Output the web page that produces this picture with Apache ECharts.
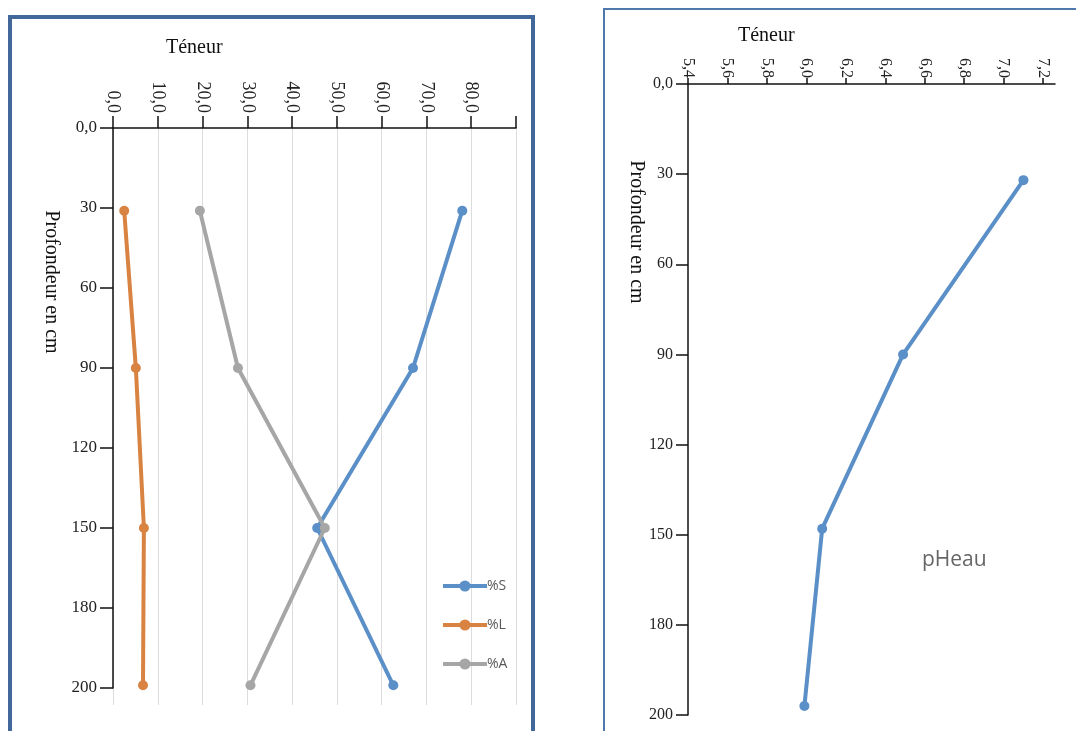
<!DOCTYPE html>
<html>
<head>
<meta charset="utf-8">
<script src="https://cdn.jsdelivr.net/npm/echarts@6/dist/echarts.min.js"></script>
<style>html,body{margin:0;padding:0;background:#fff}#c{width:1076px;height:731px}</style>
</head>
<body>
<div id="c"></div>
<script>
// ---- Data ----
const depthLabels = ['0,0','30','60','90','120','150','180','200'];
const granuloDepth = [31, 90, 150, 209];
const sable  = [78.0, 67.0, 45.6, 62.6];   // %S
const limon  = [2.5, 5.1, 6.9, 6.7];       // %L
const argile = [19.4, 27.9, 47.3, 30.7];   // %A
const phDepth = [32, 90, 148, 207];
const pHeau = [7.10, 6.49, 6.08, 5.99];
const seriesNames = ['%S', '%L', '%A'];

const serif = 'Liberation Serif';
const colS = '#5b8fc7', colL = '#d98342', colA = '#a6a6a6';

const depthFmt = v => depthLabels[Math.round(v / 30)] ?? '';
const commaFmt = v => (Math.abs(v - 90) < 1e-6 ? '' : v.toFixed(1).replace('.', ','));

const chart = echarts.init(document.getElementById('c'));
const pts = (xs, ys) => xs.map((x, i) => [x, ys[i]]);

chart.setOption({
  backgroundColor: '#ffffff',
  animation: false,
  grid: [
    { left: 113, top: 128, width: 403, height: 560 },
    { left: 113, top: 128, width: 403, height: 577 },
    { left: 688, top: 84, width: 367, height: 631 }
  ],
  xAxis: [
    { gridIndex: 0, type: 'value', position: 'top', min: 0, max: 90, interval: 10,
      axisLine: { show: true, lineStyle: { color: '#111', width: 1.5 } },
      axisTick: { show: true, inside: false, length: 12, lineStyle: { color: '#111', width: 1.5 } },
      axisLabel: { rotate: -90, margin: 15, formatter: commaFmt, fontFamily: serif, fontSize: 18, color: '#222' },
      splitLine: { show: false } },
    { gridIndex: 1, type: 'value', min: 0, max: 90, interval: 10,
      axisLine: { show: false }, axisTick: { show: false }, axisLabel: { show: false },
      splitLine: { show: true, lineStyle: { color: '#dcdcdc', width: 1 } } },
    { gridIndex: 2, type: 'value', position: 'top', min: 5.4, max: 7.26, interval: 0.2,
      axisLine: { show: true, lineStyle: { color: '#111', width: 1.5 } },
      axisTick: { show: true, length: 6, lineStyle: { color: '#111', width: 1.5 } },
      axisLabel: { rotate: -90, margin: 6, formatter: v => v.toFixed(1).replace('.', ','), fontFamily: serif, fontSize: 16, color: '#222' },
      splitLine: { show: false } }
  ],
  yAxis: [
    { gridIndex: 0, type: 'value', inverse: true, min: 0, max: 210, interval: 30,
      axisLine: { show: true, lineStyle: { color: '#111', width: 1.5 } },
      axisTick: { show: true, length: 13, lineStyle: { color: '#111', width: 1.5 } },
      axisLabel: { margin: 16, formatter: depthFmt, fontFamily: serif, fontSize: 17, color: '#222' },
      splitLine: { show: false } },
    { gridIndex: 1, type: 'value', inverse: true, min: 0, max: 210, show: false },
    { gridIndex: 2, type: 'value', inverse: true, min: 0, max: 210, interval: 30,
      axisLine: { show: true, lineStyle: { color: '#111', width: 1.5 } },
      axisTick: { show: true, length: 12, lineStyle: { color: '#111', width: 1.5 } },
      axisLabel: { margin: 15, formatter: depthFmt, fontFamily: serif, fontSize: 16, color: '#222' },
      splitLine: { show: false } }
  ],
  legend: {
    left: 436, top: 574, orient: 'vertical', itemWidth: 44, itemHeight: 14, itemGap: 25,
    data: seriesNames,
    lineStyle: { width: 4 },
    textStyle: { fontFamily: 'Open Sans', fontSize: 14, color: '#595959', padding: [0, 0, 0, -5] }
  },
  series: [
    { name: '%S', type: 'line', xAxisIndex: 0, yAxisIndex: 0, data: pts(sable, granuloDepth),
      symbol: 'circle', symbolSize: 10, lineStyle: { width: 4, color: colS }, itemStyle: { color: colS } },
    { name: '%L', type: 'line', xAxisIndex: 0, yAxisIndex: 0, data: pts(limon, granuloDepth),
      symbol: 'circle', symbolSize: 10, lineStyle: { width: 4, color: colL }, itemStyle: { color: colL } },
    { name: '%A', type: 'line', xAxisIndex: 0, yAxisIndex: 0, data: pts(argile, granuloDepth),
      symbol: 'circle', symbolSize: 10, lineStyle: { width: 4, color: colA }, itemStyle: { color: colA } },
    { name: 'pHeau', type: 'line', xAxisIndex: 2, yAxisIndex: 2, data: pts(pHeau, phDepth),
      symbol: 'circle', symbolSize: 10, lineStyle: { width: 4, color: colS }, itemStyle: { color: colS } }
  ],
  graphic: [
    { type: 'rect', shape: { x: 10, y: 17, width: 523, height: 740 }, style: { fill: 'none', stroke: '#41679b', lineWidth: 4 }, z: 100 },
    { type: 'rect', shape: { x: 604, y: 9, width: 480, height: 740 }, style: { fill: 'none', stroke: '#4f78ad', lineWidth: 2 }, z: 100 },
    { type: 'text', left: 166, top: 38, style: { text: 'Téneur', font: '20px "Liberation Serif"', fill: '#111' } },
    { type: 'text', left: 738, top: 26, style: { text: 'Téneur', font: '20px "Liberation Serif"', fill: '#111' } },
    { type: 'text', x: 51, y: 282, rotation: -Math.PI / 2,
      style: { text: 'Profondeur en cm', font: '20px "Liberation Serif"', fill: '#111', align: 'center', verticalAlign: 'middle' } },
    { type: 'text', x: 636, y: 232, rotation: -Math.PI / 2,
      style: { text: 'Profondeur en cm', font: '20px "Liberation Serif"', fill: '#111', align: 'center', verticalAlign: 'middle' } },
    { type: 'text', left: 922, top: 550, style: { text: 'pHeau', font: '21px "Open Sans"', fill: '#666' } }
  ]
});
</script>
</body>
</html>
